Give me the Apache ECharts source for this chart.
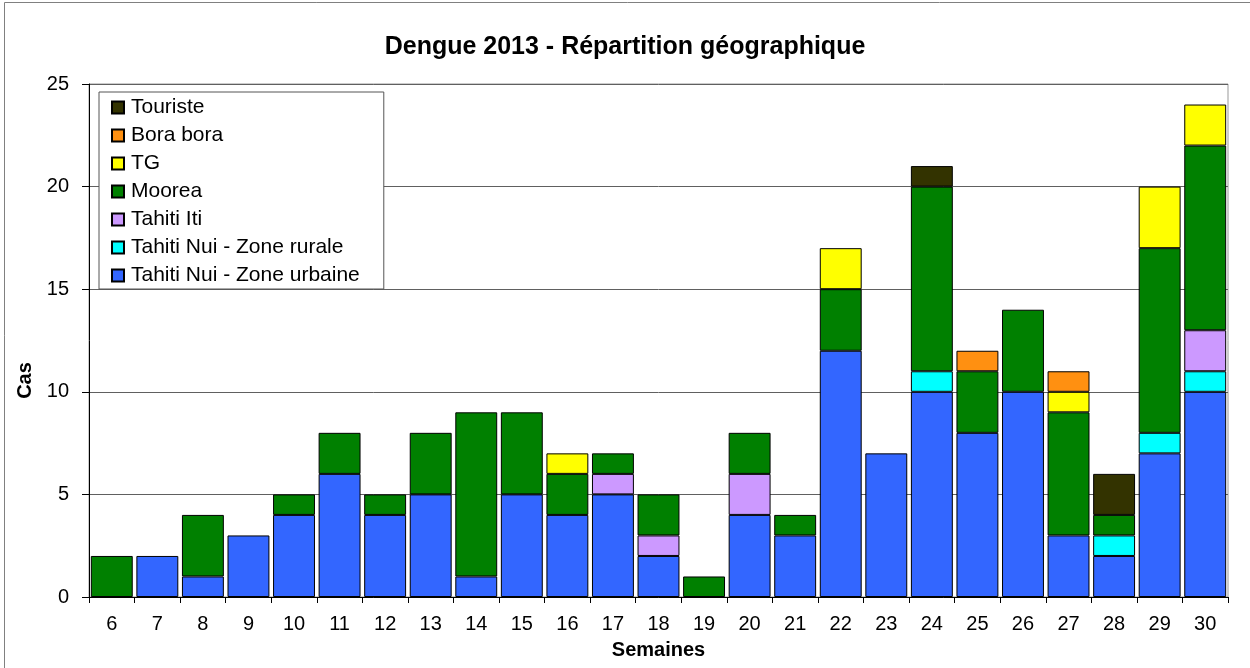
<!DOCTYPE html>
<html>
<head>
<meta charset="utf-8">
<script src="https://cdn.jsdelivr.net/npm/echarts@6/dist/echarts.min.js"></script>
<style>
html,body{margin:0;padding:0;background:#fff;}
#chart{width:1250px;height:668px;}
</style>
</head>
<body>
<div id="chart"></div>
<script>
const weeks = ['6','7','8','9','10','11','12','13','14','15','16','17','18','19','20','21','22','23','24','25','26','27','28','29','30'];
const urbaine  = [0,2,1,3,4,6,4,5,1,5,4,5,2,0,4,3,12,7,10,8,10,3,2,7,10];
const rurale   = [0,0,0,0,0,0,0,0,0,0,0,0,0,0,0,0,0,0,1,0,0,0,1,1,1];
const tahitiIti= [0,0,0,0,0,0,0,0,0,0,0,1,1,0,2,0,0,0,0,0,0,0,0,0,2];
const moorea   = [2,0,3,0,1,2,1,3,8,4,2,1,2,1,2,1,3,0,9,3,4,6,1,9,9];
const tg       = [0,0,0,0,0,0,0,0,0,0,1,0,0,0,0,0,2,0,0,0,0,1,0,3,2];
const bora     = [0,0,0,0,0,0,0,0,0,0,0,0,0,0,0,0,0,0,0,1,0,1,0,0,0];
const touriste = [0,0,0,0,0,0,0,0,0,0,0,0,0,0,0,0,0,0,1,0,0,0,2,0,0];
const yTicks = [0,5,10,15,20,25];

const seriesDefs = [
  {name:'Tahiti Nui - Zone urbaine', data:urbaine, color:'#3366FF'},
  {name:'Tahiti Nui - Zone rurale', data:rurale, color:'#00FFFF'},
  {name:'Tahiti Iti', data:tahitiIti, color:'#CC99FF'},
  {name:'Moorea', data:moorea, color:'#008000'},
  {name:'TG', data:tg, color:'#FFFF00'},
  {name:'Bora bora', data:bora, color:'#FF9011'},
  {name:'Touriste', data:touriste, color:'#333300'}
];

const FONT = '"Liberation Sans", Arial, sans-serif';
const chart = echarts.init(document.getElementById('chart'), null, {renderer:'canvas'});
chart.setOption({
  animation:false,
  backgroundColor:'#fff',
  textStyle:{fontFamily:FONT},
  title:{
    text:'Dengue 2013 - Répartition géographique',
    left:'center', top:30,
    textStyle:{fontFamily:FONT, fontSize:25, fontWeight:'bold', color:'#000'}
  },
  graphic:[
    {type:'rect', shape:{x:4.5, y:2.5, width:1300, height:700}, style:{fill:'none', stroke:'#808080', lineWidth:1}, silent:true, z:-10}
  ],
  legend:{
    orient:'vertical',
    left:99, top:92,
    data:seriesDefs.map(s=>s.name).slice().reverse(),
    backgroundColor:'#fff',
    borderColor:'#555',
    borderWidth:1,
    padding:[5,24,3,12],
    itemWidth:12, itemHeight:12, itemGap:7,
    icon:'rect',
    textStyle:{fontFamily:FONT, fontSize:21, color:'#000', padding:[0,0,0,2]},
    z:10
  },
  grid:{left:89, top:84, right:22, bottom:71, show:true, borderColor:'#999', borderWidth:1, backgroundColor:'transparent'},
  xAxis:{
    type:'category',
    data:weeks,
    name:'Semaines',
    nameLocation:'middle',
    nameGap:43,
    nameTextStyle:{fontFamily:FONT, fontSize:20, fontWeight:'bold', color:'#000'},
    axisLine:{lineStyle:{color:'#000', width:1}},
    axisTick:{show:true, length:6, lineStyle:{color:'#000'}},
    axisLabel:{fontFamily:FONT, fontSize:20, color:'#000', margin:17}
  },
  yAxis:{
    type:'value',
    min:yTicks[0], max:yTicks[yTicks.length-1], interval:5,
    name:'Cas',
    nameLocation:'middle',
    nameGap:49,
    nameRotate:90,
    nameTextStyle:{fontFamily:FONT, fontSize:20, fontWeight:'bold', color:'#000', padding:[0,80,0,0]},
    axisLine:{show:true, lineStyle:{color:'#000', width:1}},
    axisTick:{show:true, length:7, lineStyle:{color:'#000'}},
    axisLabel:{fontFamily:FONT, fontSize:20, color:'#000', margin:20},
    splitLine:{show:true, lineStyle:{color:'#606060', width:1}}
  },
  series:seriesDefs.map(s=>({
    name:s.name,
    type:'bar',
    stack:'total',
    barCategoryGap:'8%',
    data:s.data.map(v=>v===0?null:v),
    itemStyle:{color:s.color, borderColor:'#000', borderWidth:1}
  }))
});
</script>
</body>
</html>
